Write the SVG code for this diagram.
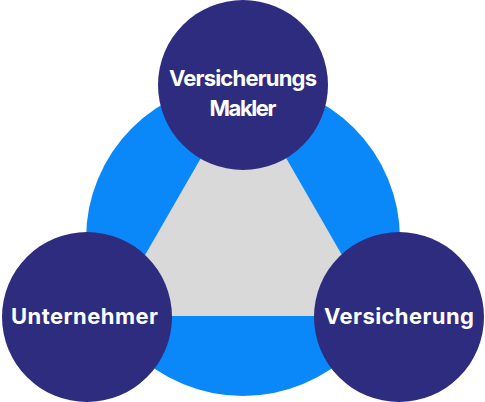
<svg xmlns="http://www.w3.org/2000/svg" width="485" height="402" viewBox="0 0 485 402">
  <style>
    .node { fill: #2E2C7E; }
    .label { fill: #FFFFFF; font-family: Inter, "Open Sans", "Liberation Sans", sans-serif; font-weight: 700; font-size: 22px; text-anchor: middle; }
  </style>
  <rect width="485" height="402" fill="#FFFFFF"/>
  <g id="connectors">
    <circle cx="243" cy="239" r="157" fill="#0A88FA"/>
    <polygon points="243.5,84 110,316 377,316" fill="#D9D9D9"/>
  </g>
  <g id="node-makler">
    <circle class="node" cx="243" cy="85" r="85"/>
    <text class="label" x="243" y="86" textLength="148" lengthAdjust="spacing">Versicherungs</text>
    <text class="label" x="243" y="116" textLength="67" lengthAdjust="spacing">Makler</text>
  </g>
  <g id="node-unternehmer">
    <circle class="node" cx="87" cy="317" r="85"/>
    <text class="label" x="84.5" y="324" textLength="147" lengthAdjust="spacing">Unternehmer</text>
  </g>
  <g id="node-versicherung">
    <circle class="node" cx="399" cy="317" r="85"/>
    <text class="label" x="399" y="324" textLength="150" lengthAdjust="spacing">Versicherung</text>
  </g>
</svg>
